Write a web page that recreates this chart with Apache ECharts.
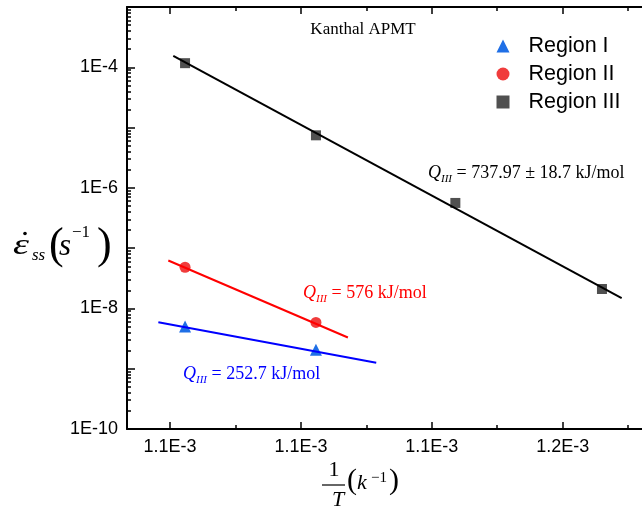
<!DOCTYPE html>
<html><head><meta charset="utf-8">
<script src="https://cdn.jsdelivr.net/npm/echarts@6/dist/echarts.min.js"></script>
<style>html,body{margin:0;padding:0;background:#fff}#c{width:642px;height:524px}</style>
</head><body><div id="c"></div><script>
// ---- data ----
const xMajorTicks = [1.10e-3, 1.12e-3, 1.14e-3, 1.16e-3];
const xMinorTicks = [1.11e-3, 1.13e-3, 1.15e-3, 1.17e-3];
const xMin = 1.09343e-3, xMax = 1.17334e-3;
const yMin = 1e-10, yMax = 1e-3;
const yMajorExp = [-10, -9, -8, -7, -6, -5, -4, -3];
const yLabelExp = [-10, -8, -6, -4];
const yMinorExp = [];
for (let n = -10; n < -3; n++) for (let k = 2; k <= 9; k++) yMinorExp.push(n + Math.log10(k));

const region1X = [1.1023e-3, 1.1223e-3];
const region1Y = [5.0e-9, 2.07e-9];
const region2X = [1.1023e-3, 1.1223e-3];
const region2Y = [4.82e-8, 5.85e-9];
const region3X = [1.1023e-3, 1.1223e-3, 1.1436e-3, 1.1660e-3];
const region3Y = [1.17e-4, 7.44e-6, 5.62e-7, 2.10e-8];
const fit1X = [1.09822e-3, 1.13151e-3];
const fit1Y = [5.91e-9, 1.26e-9];
const fit2X = [1.09974e-3, 1.12718e-3];
const fit2Y = [6.24e-8, 3.29e-9];
const fit3X = [1.10050e-3, 1.16901e-3];
const fit3Y = [1.542e-4, 1.485e-8];

const zip = (xs, ys) => xs.map((x, i) => [x, ys[i]]);
const SANS = '"Liberation Sans", Arial, sans-serif';
const SERIF = '"Liberation Serif", "Times New Roman", serif';

function xAx(pos, ticks, len, showLine, showLabel) {
  return {
    type: 'value', position: pos, min: xMin, max: xMax, scale: true,
    axisLine: { show: showLine, onZero: false, lineStyle: { color: '#000', width: 2 } },
    axisTick: { show: true, inside: true, length: len, customValues: ticks, lineStyle: { color: '#000', width: 1.5 } },
    axisLabel: showLabel ? { show: true, customValues: ticks, margin: 9, color: '#000', fontSize: 18, fontFamily: SANS,
      formatter: v => Number(v).toExponential(1).replace('e', 'E') } : { show: false },
    splitLine: { show: false }
  };
}
// decoration axes in exponent space (log10 of the value)
function yDeco(pos, ticks, len, showLabel) {
  return {
    type: 'value', position: pos, min: -10, max: -3, scale: true,
    axisLine: { show: false },
    axisTick: { show: true, inside: true, length: len, customValues: ticks, lineStyle: { color: '#000', width: 1.5 } },
    axisLabel: showLabel ? { show: true, customValues: yLabelExp, margin: 9, color: '#000', fontSize: 18, fontFamily: SANS,
      formatter: v => '1E' + Math.round(v) } : { show: false },
    splitLine: { show: false }
  };
}
function yData(pos) {
  return {
    type: 'log', logBase: 10, position: pos, min: yMin, max: yMax,
    axisLine: { show: true, onZero: false, lineStyle: { color: '#000', width: 2 } },
    axisTick: { show: false }, axisLabel: { show: false }, splitLine: { show: false }, minorTick: { show: false }
  };
}

const chart = echarts.init(document.getElementById('c'), null, { renderer: 'canvas' });
chart.setOption({
  animation: false,
  backgroundColor: '#fff',
  grid: { left: 127, top: 7, right: -8, bottom: 95, containLabel: false, outerBoundsMode: 'none' },
  xAxis: [
    xAx('bottom', xMajorTicks, 7, true, true),
    xAx('bottom', xMinorTicks, 4, false, false),
    xAx('top', xMajorTicks, 7, true, false),
    xAx('top', xMinorTicks, 4, false, false)
  ],
  yAxis: [
    yData('left'),
    yData('right'),
    yDeco('left', yMajorExp, 8, true),
    yDeco('left', yMinorExp, 4, false),
    yDeco('right', yMajorExp, 8, false),
    yDeco('right', yMinorExp, 4, false)
  ],
  legend: {
    left: 491.5, top: 30, orient: 'vertical', itemWidth: 13, itemHeight: 13, itemGap: 6,
    textStyle: { fontSize: 21.5, fontFamily: SANS, color: '#000', lineHeight: 22, padding: [0, 0, 0, 14] },
    data: [
      { name: 'Region I', icon: 'triangle' },
      { name: 'Region II', icon: 'circle' },
      { name: 'Region III', icon: 'rect' }
    ]
  },
  series: [
    { name: 'fit I', type: 'line', data: zip(fit1X, fit1Y), showSymbol: false, lineStyle: { color: '#0000ff', width: 2 }, itemStyle: { color: '#0000ff' } },
    { name: 'fit II', type: 'line', data: zip(fit2X, fit2Y), showSymbol: false, lineStyle: { color: '#ff0000', width: 2 }, itemStyle: { color: '#ff0000' } },
    { name: 'fit III', type: 'line', data: zip(fit3X, fit3Y), showSymbol: false, lineStyle: { color: '#000000', width: 2 }, itemStyle: { color: '#000' } },
    { name: 'Region I', type: 'scatter', data: zip(region1X, region1Y), symbol: 'triangle', symbolSize: 12, itemStyle: { color: '#1f6fe6', opacity: 1 } },
    { name: 'Region II', type: 'scatter', data: zip(region2X, region2Y), symbol: 'circle', symbolSize: 11, itemStyle: { color: '#f03c3c', opacity: 1 } },
    { name: 'Region III', type: 'scatter', data: zip(region3X, region3Y), symbol: 'rect', symbolSize: 10, itemStyle: { color: '#505050', opacity: 1 } }
  ],
  graphic: [
    { type: 'text', x: 363, y: 30, style: { text: 'Kanthal APMT', font: '17px ' + SERIF, fill: '#000', align: 'center', verticalAlign: 'middle', textAlign: 'center', textVerticalAlign: 'middle' } },
    { type: 'text', x: 428, y: 173, style: { text: '{q|Q}{s|III}{t| = 737.97 ± 18.7 kJ/mol}', fill: '#000', align: 'left', verticalAlign: 'middle', textAlign: 'left', textVerticalAlign: 'middle',
      rich: { q: { fontFamily: SERIF, fontSize: 18, fontStyle: 'italic', lineHeight: 24, verticalAlign: 'middle' }, s: { fontFamily: SERIF, fontSize: 11, fontStyle: 'italic', lineHeight: 11, verticalAlign: 'bottom' }, t: { fontFamily: SERIF, fontSize: 18, lineHeight: 24, verticalAlign: 'middle' } } } },
    { type: 'text', x: 303, y: 293, style: { text: '{q|Q}{s|III}{t| = 576 kJ/mol}', fill: '#ff0000', align: 'left', verticalAlign: 'middle', textAlign: 'left', textVerticalAlign: 'middle',
      rich: { q: { fontFamily: SERIF, fontSize: 18, fontStyle: 'italic', lineHeight: 24, verticalAlign: 'middle', color: '#ff0000' }, s: { fontFamily: SERIF, fontSize: 11, fontStyle: 'italic', lineHeight: 11, verticalAlign: 'bottom', color: '#ff0000' }, t: { fontFamily: SERIF, fontSize: 18, lineHeight: 24, verticalAlign: 'middle', color: '#ff0000' } } } },
    { type: 'text', x: 183, y: 374, style: { text: '{q|Q}{s|III}{t| = 252.7 kJ/mol}', fill: '#0000ff', align: 'left', verticalAlign: 'middle', textAlign: 'left', textVerticalAlign: 'middle',
      rich: { q: { fontFamily: SERIF, fontSize: 18, fontStyle: 'italic', lineHeight: 24, verticalAlign: 'middle', color: '#0000ff' }, s: { fontFamily: SERIF, fontSize: 11, fontStyle: 'italic', lineHeight: 11, verticalAlign: 'bottom', color: '#0000ff' }, t: { fontFamily: SERIF, fontSize: 18, lineHeight: 24, verticalAlign: 'middle', color: '#0000ff' } } } },
    // y axis name
    { type: 'text', x: 13, y: 246, scaleX: 1.35, style: { text: 'ε', font: 'italic 30px ' + SERIF, fill: '#000', align: 'left', verticalAlign: 'middle', textAlign: 'left', textVerticalAlign: 'middle' } },
    { type: 'circle', shape: { cx: 25, cy: 233.5, r: 1.8 }, style: { fill: '#000' } },
    { type: 'text', x: 32, y: 256, style: { text: 'ss', font: 'italic 17px ' + SERIF, fill: '#000', align: 'left', verticalAlign: 'middle', textAlign: 'left', textVerticalAlign: 'middle' } },
    { type: 'text', x: 49, y: 246, style: { text: '(', font: '44px ' + SERIF, fill: '#000', align: 'left', verticalAlign: 'middle', textAlign: 'left', textVerticalAlign: 'middle' } },
    { type: 'text', x: 59, y: 247, style: { text: 's', font: 'italic 31px ' + SERIF, fill: '#000', align: 'left', verticalAlign: 'middle', textAlign: 'left', textVerticalAlign: 'middle' } },
    { type: 'text', x: 72, y: 233, style: { text: '−1', font: '17px ' + SERIF, fill: '#000', align: 'left', verticalAlign: 'middle', textAlign: 'left', textVerticalAlign: 'middle' } },
    { type: 'text', x: 97, y: 246, style: { text: ')', font: '44px ' + SERIF, fill: '#000', align: 'left', verticalAlign: 'middle', textAlign: 'left', textVerticalAlign: 'middle' } },
    // x axis name
    { type: 'text', x: 334, y: 470, style: { text: '1', font: '22px ' + SERIF, fill: '#000', align: 'center', verticalAlign: 'middle', textAlign: 'center', textVerticalAlign: 'middle' } },
    { type: 'line', shape: { x1: 322, y1: 485, x2: 345, y2: 485 }, style: { stroke: '#000', lineWidth: 1.2 } },
    { type: 'text', x: 338, y: 500, style: { text: 'T', font: 'italic 22px ' + SERIF, fill: '#000', align: 'center', verticalAlign: 'middle', textAlign: 'center', textVerticalAlign: 'middle' } },
    { type: 'text', x: 347, y: 481, style: { text: '(', font: '30px ' + SERIF, fill: '#000', align: 'left', verticalAlign: 'middle', textAlign: 'left', textVerticalAlign: 'middle' } },
    { type: 'text', x: 357, y: 483, style: { text: 'k', font: 'italic 22px ' + SERIF, fill: '#000', align: 'left', verticalAlign: 'middle', textAlign: 'left', textVerticalAlign: 'middle' } },
    { type: 'text', x: 371, y: 478, style: { text: '−1', font: '15px ' + SERIF, fill: '#000', align: 'left', verticalAlign: 'middle', textAlign: 'left', textVerticalAlign: 'middle' } },
    { type: 'text', x: 389, y: 481, style: { text: ')', font: '30px ' + SERIF, fill: '#000', align: 'left', verticalAlign: 'middle', textAlign: 'left', textVerticalAlign: 'middle' } }
  ]
});
</script></body></html>
